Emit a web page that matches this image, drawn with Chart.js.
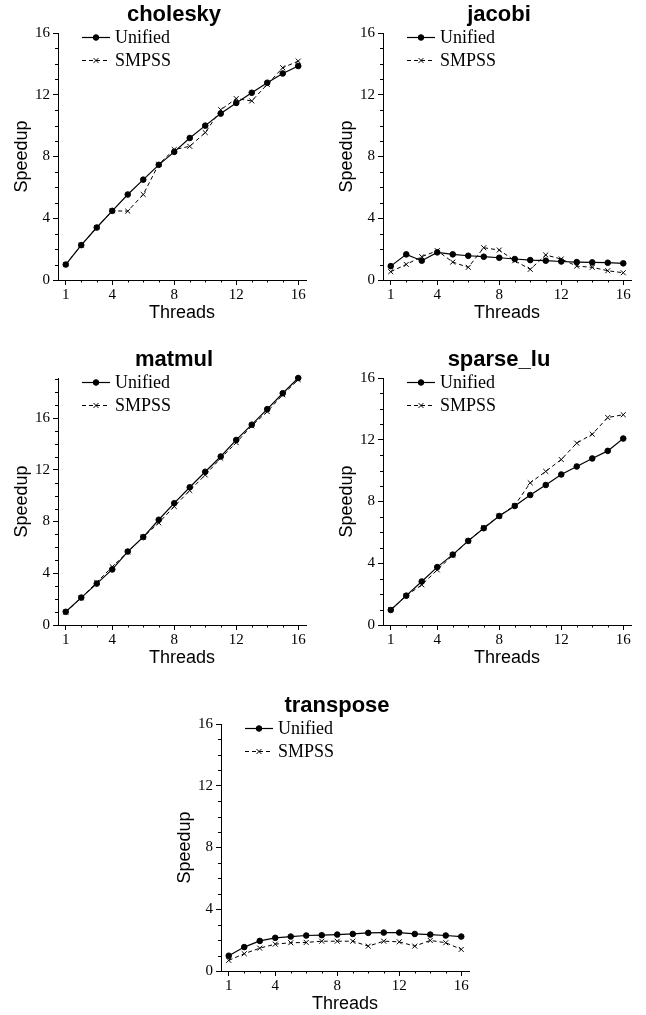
<!DOCTYPE html>
<html>
<head>
<meta charset="utf-8">
<script src="https://cdn.jsdelivr.net/npm/chart.js@4.4.1/dist/chart.umd.min.js"></script>
<style>
  body { margin: 0; background: #fff; width: 646px; height: 1015px; overflow: hidden; position: relative; }
  canvas { position: absolute; }
</style>
</head>
<body>
<canvas id="cholesky" width="320" height="330" style="left:0;top:0"></canvas>
<canvas id="jacobi" width="320" height="330" style="left:325px;top:0"></canvas>
<canvas id="matmul" width="320" height="330" style="left:0;top:345px"></canvas>
<canvas id="sparse_lu" width="320" height="330" style="left:325px;top:345px"></canvas>
<canvas id="transpose" width="320" height="330" style="left:163px;top:691px"></canvas>
<script>
const threads = [1, 2, 3, 4, 5, 6, 7, 8, 9, 10, 11, 12, 13, 14, 15, 16];
const xLabels = [1, 4, 8, 12, 16];
const yLabels = [0, 4, 8, 12, 16];

const choleskyUnified = [1.0, 2.26, 3.4, 4.48, 5.54, 6.5, 7.46, 8.3, 9.2, 10.0, 10.78, 11.47, 12.13, 12.78, 13.38, 13.86];
const choleskySmpss = [1.0, 2.26, 3.4, 4.48, 4.46, 5.54, 7.5, 8.45, 8.66, 9.55, 11.03, 11.75, 11.6, 12.67, 13.75, 14.18];

const jacobiUnified = [0.9, 1.66, 1.25, 1.79, 1.66, 1.57, 1.51, 1.44, 1.36, 1.29, 1.25, 1.2, 1.16, 1.14, 1.12, 1.08];
const jacobiSmpss = [0.54, 1.01, 1.51, 1.9, 1.16, 0.82, 2.09, 1.94, 1.25, 0.69, 1.62, 1.36, 0.9, 0.82, 0.6, 0.47];

const matmulUnified = [1.02, 2.12, 3.2, 4.3, 5.68, 6.8, 8.14, 9.42, 10.65, 11.85, 13.03, 14.31, 15.49, 16.69, 17.92, 19.1];
const matmulSmpss = [1.0, 2.1, 3.3, 4.5, 5.65, 6.8, 7.9, 9.17, 10.4, 11.6, 12.9, 14.1, 15.4, 16.5, 17.8, 18.97];

const sparseUnified = [0.97, 1.9, 2.82, 3.75, 4.56, 5.45, 6.27, 7.06, 7.71, 8.42, 9.07, 9.75, 10.27, 10.79, 11.28, 12.08];
const sparseSmpss = [1.0, 1.9, 2.6, 3.57, 4.52, 5.45, 6.3, 7.06, 7.75, 9.21, 9.95, 10.72, 11.78, 12.36, 13.44, 13.62];

const transposeUnified = [0.99, 1.55, 1.95, 2.15, 2.23, 2.3, 2.32, 2.36, 2.4, 2.47, 2.49, 2.49, 2.4, 2.36, 2.3, 2.23];
const transposeSmpss = [0.69, 1.12, 1.48, 1.74, 1.83, 1.85, 1.93, 1.93, 1.93, 1.61, 1.93, 1.89, 1.61, 1.98, 1.83, 1.4];

const serif = '"Liberation Serif", "DejaVu Serif", serif';
const sans = '"Liberation Sans", Arial, sans-serif';

Chart.defaults.font.family = serif;
Chart.defaults.color = "#000";

// minor ticks, the panel title and the in-plot legend
const panelDecor = {
  id: "panelDecor",
  afterDraw(chart, args, opts) {
    const { ctx, chartArea: a } = chart;
    const xScale = chart.scales.x;
    const yScale = chart.scales.y;
    ctx.save();
    ctx.strokeStyle = "#000";
    ctx.lineWidth = 1;
    ctx.beginPath();
    yScale.ticks.forEach(t => {
      if (yLabels.includes(t.value)) return;
      const py = Math.round(yScale.getPixelForValue(t.value)) + 0.5;
      ctx.moveTo(a.left - 3, py);
      ctx.lineTo(a.left, py);
    });
    xScale.ticks.forEach(t => {
      if (xLabels.includes(t.value)) return;
      const px = Math.round(xScale.getPixelForValue(t.value)) + 0.5;
      ctx.moveTo(px, a.bottom);
      ctx.lineTo(px, a.bottom + 2.5);
    });
    ctx.stroke();

    ctx.font = "bold 22px " + sans;
    ctx.fillStyle = "#000";
    ctx.textAlign = "center";
    ctx.textBaseline = "middle";
    ctx.fillText(opts.title, (a.left + a.right) / 2 - 8, 15);

    ctx.font = "18px " + serif;
    ctx.textAlign = "left";
    chart.data.datasets.forEach((ds, i) => {
      const ly = Math.round(a.top + 4 + i * 23) + 0.5;
      const x0 = a.left + 24;
      const x1 = a.left + 52;
      ctx.setLineDash(ds.borderDash || []);
      ctx.lineWidth = ds.borderWidth;
      ctx.beginPath();
      ctx.moveTo(x0, ly);
      ctx.lineTo(x1, ly);
      ctx.stroke();
      ctx.setLineDash([]);
      ctx.lineWidth = ds.pointBorderWidth;
      Chart.helpers.drawPoint(ctx, {
        pointStyle: ds.pointStyle, radius: ds.pointRadius, rotation: 0, borderWidth: ds.pointBorderWidth
      }, (x0 + x1) / 2, ly);
      ctx.fillText(ds.label, a.left + 57, ly + 1);
    });
    ctx.restore();
  }
};

function makePanel(canvasId, title, unified, smpss, yMax) {
  const yTicks = [];
  for (let v = 0; v <= yMax; v++) yTicks.push(v);

  new Chart(document.getElementById(canvasId).getContext("2d"), {
    type: "line",
    data: {
      datasets: [
        {
          label: "Unified",
          data: threads.map((t, i) => ({ x: t, y: unified[i] })),
          borderColor: "#000",
          backgroundColor: "#000",
          borderWidth: 1.2,
          pointStyle: "circle",
          pointRadius: 2.8,
          pointBorderWidth: 1,
          pointBackgroundColor: "#000",
          pointBorderColor: "#000",
          clip: false
        },
        {
          label: "SMPSS",
          data: threads.map((t, i) => ({ x: t, y: smpss[i] })),
          borderColor: "#000",
          backgroundColor: "#000",
          borderWidth: 1,
          borderDash: [4, 3],
          pointStyle: "crossRot",
          pointRadius: 3.5,
          pointBorderWidth: 1,
          pointBorderColor: "#000",
          clip: false
        }
      ]
    },
    options: {
      responsive: false,
      animation: false,
      layout: { padding: { top: 33, left: 0, right: 14, bottom: 0 } },
      plugins: {
        legend: { display: false },
        tooltip: { enabled: false },
        panelDecor: { title }
      },
      scales: {
        x: {
          type: "linear",
          min: 0.5,
          max: 16.5,
          afterBuildTicks: s => { s.ticks = threads.map(v => ({ value: v })); },
          afterFit: s => { s.height = 50; },
          grid: {
            drawOnChartArea: false, tickLength: 5,
            tickColor: c => (c.tick && xLabels.includes(c.tick.value)) ? "#000" : "rgba(0,0,0,0)"
          },
          border: { color: "#000", width: 1 },
          ticks: {
            autoSkip: false, maxRotation: 0, padding: 1, font: { size: 15 },
            callback: v => xLabels.includes(v) ? String(v) : ""
          },
          title: { display: true, text: "Threads", font: { family: sans, size: 18 }, padding: { top: 0, bottom: 6 } }
        },
        y: {
          type: "linear",
          min: 0,
          max: yMax,
          afterBuildTicks: s => { s.ticks = yTicks.map(v => ({ value: v })); },
          afterFit: s => { s.width = 58; },
          grid: {
            drawOnChartArea: false, tickLength: 5,
            tickColor: c => (c.tick && yLabels.includes(c.tick.value)) ? "#000" : "rgba(0,0,0,0)"
          },
          border: { color: "#000", width: 1 },
          ticks: {
            autoSkip: false, padding: 3, font: { size: 15 },
            callback: v => yLabels.includes(v) ? String(v) : ""
          },
          title: { display: true, text: "Speedup", font: { family: sans, size: 18 }, padding: { top: 11, bottom: 0 } }
        }
      }
    },
    plugins: [panelDecor]
  });
}

makePanel("cholesky", "cholesky", choleskyUnified, choleskySmpss, 16);
makePanel("jacobi", "jacobi", jacobiUnified, jacobiSmpss, 16);
makePanel("matmul", "matmul", matmulUnified, matmulSmpss, 19.1);
makePanel("sparse_lu", "sparse_lu", sparseUnified, sparseSmpss, 16);
makePanel("transpose", "transpose", transposeUnified, transposeSmpss, 16);
</script>
</body>
</html>
